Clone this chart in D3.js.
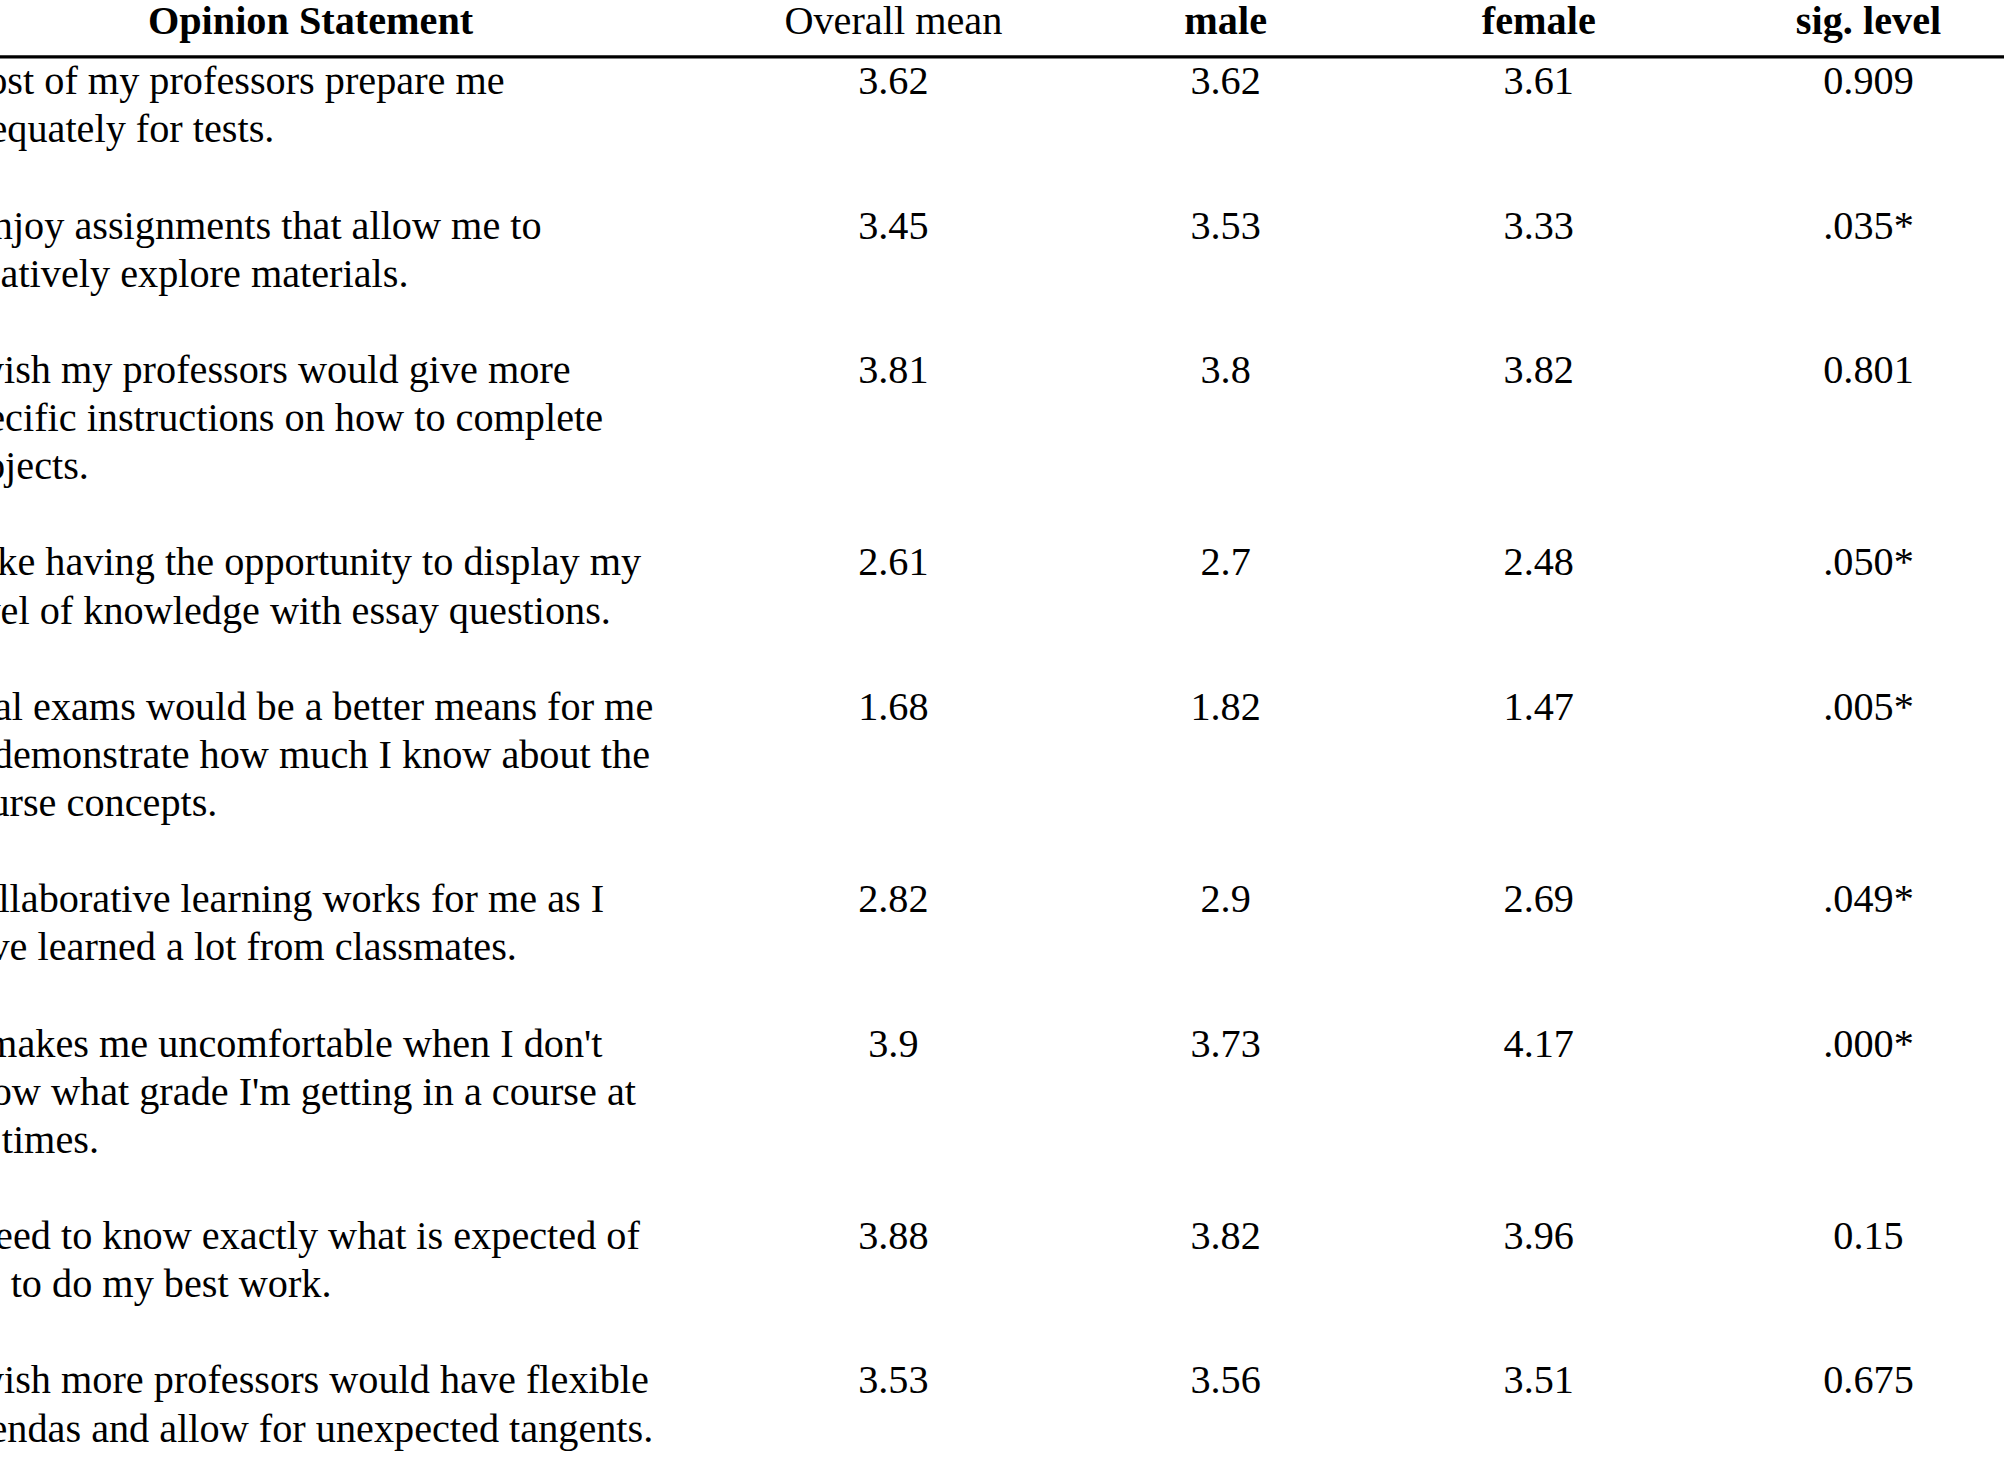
<!DOCTYPE html>
<html><head><meta charset="utf-8">
<script src="https://cdn.jsdelivr.net/npm/d3@7"></script>
<style>body{margin:0;background:#fff;overflow:hidden}</style>
</head><body>
<script>
var columns = ["Opinion Statement", "Overall mean", "male", "female", "sig. level"];
var statements = [
    ["Most of my professors prepare me", "adequately for tests."],
    ["I enjoy assignments that allow me to", "creatively explore materials."],
    ["I wish my professors would give more", "specific instructions on how to complete", "projects."],
    ["I like having the opportunity to display my", "level of knowledge with essay questions."],
    ["Oral exams would be a better means for me", "to demonstrate how much I know about the", "course concepts."],
    ["Collaborative learning works for me as I", "have learned a lot from classmates."],
    ["It makes me uncomfortable when I don't", "know what grade I'm getting in a course at", "all times."],
    ["I need to know exactly what is expected of", "me to do my best work."],
    ["I wish more professors would have flexible", "agendas and allow for unexpected tangents."]
];
var overallMean = ["3.62", "3.45", "3.81", "2.61", "1.68", "2.82", "3.9", "3.88", "3.53"];
var maleMean = ["3.62", "3.53", "3.8", "2.7", "1.82", "2.9", "3.73", "3.82", "3.56"];
var femaleMean = ["3.61", "3.33", "3.82", "2.48", "1.47", "2.69", "4.17", "3.96", "3.51"];
var sigLevel = ["0.909", ".035*", "0.801", ".050*", ".005*", ".049*", ".000*", "0.15", "0.675"];

var W = 2004, H = 1463;
var baseW = 1568, baseH = 1134;

var svg = d3.select("body").append("svg").attr("width", W).attr("height", H);
var g = svg.append("g").attr("transform", `scale(${W / baseW}, ${H / baseH})`)
    .style("font-family", "'Liberation Serif', serif").style("font-size", "31.5px");

var lineH = 37.3;
var textX = -38;
var x = d3.scaleOrdinal().domain(columns).range([243, 699, 959, 1204, 1462]);
var bold = {"Opinion Statement": true, "male": true, "female": true, "sig. level": true};

g.selectAll("text.head").data(columns).enter().append("text")
    .attr("class", "head")
    .attr("x", d => x(d)).attr("y", 26)
    .attr("text-anchor", "middle")
    .style("font-weight", d => bold[d] ? "bold" : "normal")
    .text(d => d);

g.append("line").attr("x1", 0).attr("x2", baseW).attr("y1", 44).attr("y2", 44)
    .attr("stroke", "#000").attr("stroke-width", 2.5);

var y0 = [];
var cur = 73;
statements.forEach(function(s) { y0.push(cur); cur += (s.length + 1) * lineH; });

var rows = g.selectAll("g.row").data(statements).enter().append("g")
    .attr("class", "row")
    .attr("transform", (d, i) => `translate(0, ${y0[i]})`);

rows.append("text").attr("x", textX)
    .selectAll("tspan").data(d => d).enter().append("tspan")
    .attr("x", textX).attr("y", (d, j) => j * lineH)
    .text(d => d);

var valueCols = [overallMean, maleMean, femaleMean, sigLevel];
valueCols.forEach(function(vals, c) {
    rows.append("text")
        .attr("x", x(columns[c + 1])).attr("y", 0)
        .attr("text-anchor", "middle")
        .text((d, i) => vals[i]);
});
</script>
</body></html>
